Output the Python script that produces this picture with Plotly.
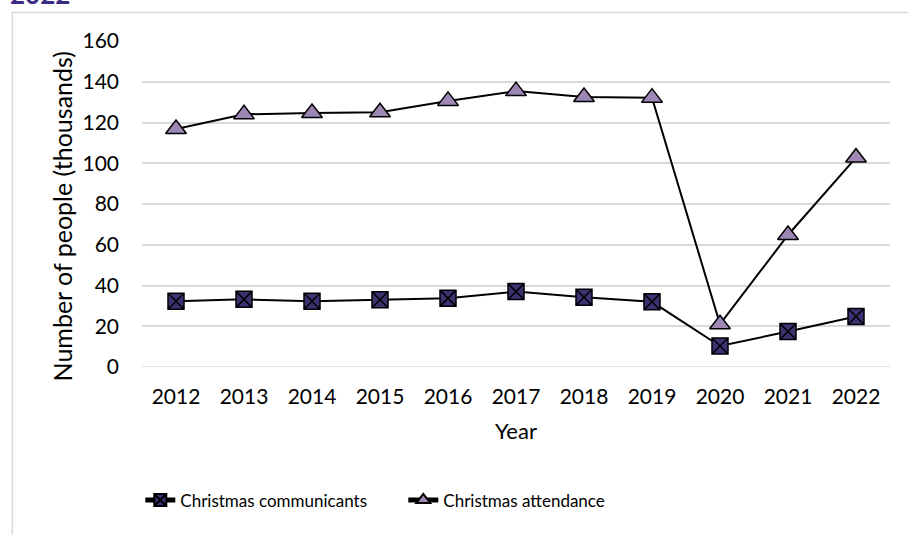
import plotly.graph_objects as go

# ── Données ───────────────────────────────────────────────────────────────────
years = ["2012", "2013", "2014", "2015", "2016", "2017",
         "2018", "2019", "2020", "2021", "2022"]
communicants = [32.3, 33.2, 32.3, 33.0, 33.8, 37.0, 34.2, 32.0, 10.3, 17.4, 24.8]
attendance = [116.8, 124.0, 124.7, 125.0, 130.6, 135.4, 132.5, 132.2, 21.0, 64.8, 102.8]

FONT = "Lato, 'Open Sans', sans-serif"

fig = go.Figure()

fig.add_trace(go.Scatter(
    x=years, y=communicants, name="Christmas communicants",
    mode="lines+markers",
    line=dict(color="black", width=2),
    marker=dict(symbol="square-x", size=16, color="#3a3372",
                line=dict(color="black", width=1.5)),
))
fig.add_trace(go.Scatter(
    x=years, y=attendance, name="Christmas attendance",
    mode="lines+markers",
    line=dict(color="black", width=2),
    marker=dict(symbol="triangle-up", size=18, color="#9d87b4",
                line=dict(color="black", width=1.5)),
))

# ── Mise en page ──────────────────────────────────────────────────────────────
L, R, T, B = 141.7, 908 - 889.7, 41, 535 - 366.7
pw, ph = 908 - L - R, 535 - T - B

def px_x(p):
    return (p - L) / pw

def px_y(p):
    return (535 - B - p) / ph

fig.update_layout(
    width=908, height=535,
    paper_bgcolor="white", plot_bgcolor="white",
    margin=dict(l=L, r=R, t=T, b=B, autoexpand=False),
    font=dict(family=FONT, size=18, color="black"),
    showlegend=True,
    legend=dict(orientation="h", x=px_x(140), xanchor="left",
                y=px_y(500), yanchor="middle",
                font=dict(size=17), entrywidth=218, entrywidthmode="pixels",
                itemsizing="constant"),
    xaxis=dict(
        type="category", range=[-0.5, 10.5],
        showgrid=False, showline=False, ticks="",
        ticklabelstandoff=15, tickfont=dict(size=21),
        title=dict(text="Year", standoff=16, font=dict(size=22)),
    ),
    yaxis=dict(
        range=[0, 160], dtick=20,
        showgrid=True, gridcolor="#d9d9d9", gridwidth=1.5,
        zeroline=False, showline=False, ticks="",
        ticklabelstandoff=22, tickfont=dict(size=21),
    ),
)

# titre de l'axe y (décalé vers le bas comme dans l'original)
fig.add_annotation(xref="paper", yref="paper", x=px_x(62), y=px_y(216),
                   xanchor="center", yanchor="middle", textangle=-90,
                   showarrow=False, text="Number of people (thousands)",
                   font=dict(family=FONT, size=25, color="black"))

# ligne zéro (même style que la grille)
fig.add_shape(type="line", xref="paper", yref="y", x0=0, x1=1, y0=0, y1=0,
              line=dict(color="#d9d9d9", width=1.5), layer="below")

# cadre du graphique (coupé à droite et en bas)
fig.add_shape(type="rect", xref="paper", yref="paper",
              x0=px_x(12), x1=px_x(930), y0=px_y(12.5), y1=px_y(560),
              line=dict(color="#d9d9d9", width=1.5))

# titre tronqué en haut
fig.add_annotation(xref="paper", yref="paper", x=px_x(8), y=px_y(12),
                   xanchor="left", yanchor="bottom", showarrow=False,
                   text="<b>2022</b>",
                   font=dict(family=FONT, size=26, color="#3b2c85"))

fig.write_html("out.html", config={"displayModeBar": False},
               post_script="document.body.style.margin='0';")
